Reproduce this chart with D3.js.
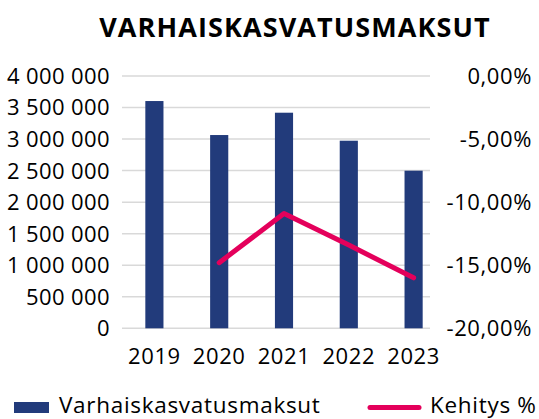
<!DOCTYPE html>
<html><head><meta charset="utf-8">
<script src="https://cdn.jsdelivr.net/npm/d3@7"></script>
<style>
html,body{margin:0;padding:0;background:#fff;}
text{font-family:"Open Sans",sans-serif;fill:#000;}
</style></head>
<body><svg id="c" width="539" height="419"></svg>
<script>
const title = "VARHAISKASVATUSMAKSUT";
const years = ["2019","2020","2021","2022","2023"];
const fees = [3603000, 3064000, 3418000, 2974000, 2499000];
const changeYears = ["2020","2021","2022","2023"];
const change = [-0.148, -0.109, -0.134, -0.160];
const leftTicks = [0,500000,1000000,1500000,2000000,2500000,3000000,3500000,4000000];
const rightTicks = [0,-0.05,-0.10,-0.15,-0.20];
const seriesNames = ["Varhaiskasvatusmaksut","Kehitys %"];

const svg = d3.select("#c");
const plotTop = 76, plotBottom = 328.3, gridL = 122, gridR = 430;
const x = d3.scaleBand().domain(years).range([122, 446]).paddingInner(0.72).paddingOuter(0.36);
const yL = d3.scaleLinear().domain([0,4000000]).range([plotBottom, plotTop]);
const yR = d3.scaleLinear().domain([-0.20,0]).range([plotBottom, plotTop]);

const fmtL = v => {
  const s = String(v);
  if (s.length <= 3) return s;
  let out = "", c = 0;
  for (let i = s.length-1; i >= 0; i--) { out = s[i] + out; c++; if (c % 3 === 0 && i > 0) out = " " + out; }
  return out;
};
const fmtR = v => (v*100).toFixed(2).replace(".", ",").replace(/^-0,00/,"0,00") + "%";

// gridlines
svg.append("g").selectAll("line").data(leftTicks).join("line")
  .attr("x1", gridL).attr("x2", gridR)
  .attr("y1", d => yL(d)).attr("y2", d => yL(d))
  .attr("stroke", "#d9d9d9").attr("stroke-width", 1.5);

// left axis labels
svg.append("g").selectAll("text").data(leftTicks).join("text")
  .attr("x", 110).attr("y", d => yL(d)).attr("dy", "0.36em")
  .attr("text-anchor", "end").style("font-size", "22px").style("letter-spacing", "0.4px")
  .text(fmtL);

// right axis labels
svg.append("g").selectAll("text").data(rightTicks).join("text")
  .attr("x", 532).attr("y", d => yR(d)).attr("dy", "0.36em")
  .attr("text-anchor", "end").style("font-size", "22px").style("letter-spacing", "0.6px")
  .text(fmtR);

// bars
svg.append("g").selectAll("rect").data(years).join("rect")
  .attr("x", d => x(d)).attr("width", x.bandwidth())
  .attr("y", (d,i) => yL(fees[i])).attr("height", (d,i) => plotBottom - yL(fees[i]))
  .attr("fill", "#223b7b");

// x labels
svg.append("g").selectAll("text").data(years).join("text")
  .attr("x", d => x(d) + x.bandwidth()/2).attr("y", 364)
  .attr("text-anchor", "middle").style("font-size", "22px").style("letter-spacing", "0.6px")
  .text(d => d);

// line
const line = d3.line().x((d,i) => x(changeYears[i]) + x.bandwidth()/2).y(d => yR(d));
svg.append("path").datum(change).attr("d", line)
  .attr("fill", "none").attr("stroke", "#e4005b").attr("stroke-width", 5)
  .attr("stroke-linecap", "round").attr("stroke-linejoin", "round");

// title
svg.append("text").attr("x", 295).attr("y", 37).attr("text-anchor", "middle")
  .style("font-size", "27px").style("font-weight", "700").style("letter-spacing", "1.1px")
  .text(title);

// legend
svg.append("rect").attr("x", 14).attr("y", 402).attr("width", 35).attr("height", 11).attr("fill", "#223b7b");
svg.append("text").attr("x", 59).attr("y", 413).style("font-size", "22.5px").style("letter-spacing", "0.7px").text(seriesNames[0]);
svg.append("line").attr("x1", 370).attr("x2", 419).attr("y1", 407.5).attr("y2", 407.5)
  .attr("stroke", "#e4005b").attr("stroke-width", 5).attr("stroke-linecap", "round");
svg.append("text").attr("x", 430).attr("y", 413).style("font-size", "22.5px").style("letter-spacing", "0.7px").text(seriesNames[1]);
</script></body></html>
